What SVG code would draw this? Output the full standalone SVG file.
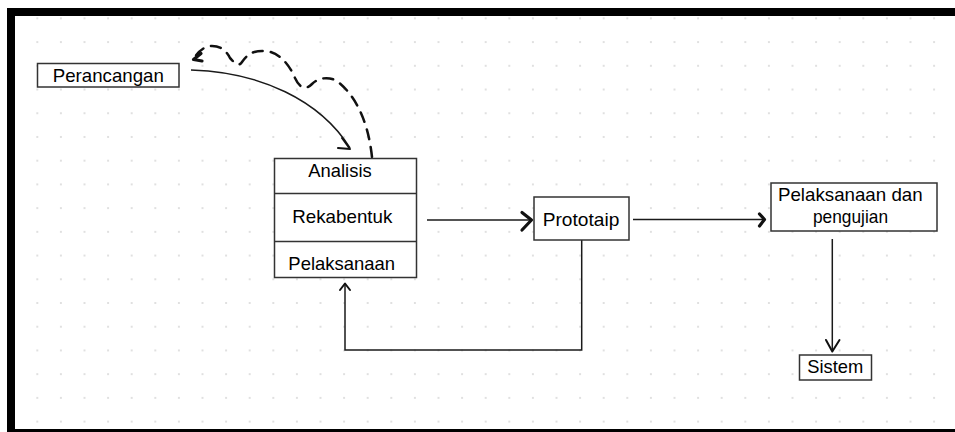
<svg xmlns="http://www.w3.org/2000/svg" width="955" height="432" viewBox="0 0 955 432">
<style>
.box{fill:#fff;stroke:#333;stroke-width:1.5}
.div{stroke:#333;stroke-width:1.5;fill:none}
.t{font-family:"Liberation Sans",Arial,Helvetica,sans-serif;font-size:18.5px;fill:#000;text-anchor:middle}
.ln{fill:none;stroke:#1a1a1a;stroke-width:1.5}
.hd{fill:none;stroke:#111;stroke-width:3.2;stroke-linecap:round;stroke-linejoin:round}
.hs{fill:none;stroke:#111;stroke-width:2;stroke-linecap:round;stroke-linejoin:round}
.dash{fill:none;stroke:#111;stroke-width:2.5;stroke-dasharray:10 8;stroke-linecap:round}
</style>
<defs>
<pattern id="dots" x="25.5" y="6.5" width="23.6" height="23.72" patternUnits="userSpaceOnUse">
<circle cx="11.8" cy="11.86" r="1" fill="#d6d6d6"/>
</pattern>
</defs>
<rect x="0" y="0" width="955" height="432" fill="#fff"/>
<rect x="15" y="16" width="940" height="413" fill="url(#dots)"/>
<g id="frame">
<rect x="7" y="8" width="948" height="8" fill="#000"/>
<rect x="7" y="8" width="8" height="424" fill="#000"/>
<rect x="7" y="429" width="948" height="3" fill="#000"/>
</g>
<g id="connectors">
<path class="ln" d="M191,70 C260,72 320,100 350,148"/>
<path class="hs" d="M342,138 L350,149 L338,148"/>
<path class="dash" d="M372,157 C368,120 355,95 337,81 C328,76 318,78 312,84 C306,90 300,89 295,78 C290,66 280,52 265,51 C252,50 246,56 242,62 C238,68 234,62 230,58 C226,50 220,46 212,46 C204,46 198,52 195,57"/>
<path class="hd" d="M201,53.5 L193.5,59.5 L202,61"/>
<path class="ln" d="M427,220 H530"/>
<path class="hd" d="M522,212.5 L531.5,220 L522,230"/>
<path class="ln" d="M581.7,240 V350 H345 V284"/>
<path class="hs" d="M340,290 L345,283.5 L350,290"/>
<path class="ln" d="M633,219.5 H763"/>
<path class="hd" d="M759.5,214 L764.5,219.5 L759.5,226"/>
<path class="ln" d="M832.3,239 V350"/>
<path class="hs" d="M826,340 L832.3,351.5 L839.5,340"/>
</g>
<g id="perancangan">
<rect class="box" x="37.5" y="63.5" width="141.5" height="23.5"/>
<text class="t" x="108.3" y="81.7" textLength="111" lengthAdjust="spacingAndGlyphs">Perancangan</text>
</g>
<g id="analisis">
<rect class="box" x="274.5" y="158.5" width="142" height="119"/>
<path class="div" d="M274.5,193.5 H416.5 M274.5,241.5 H416.5"/>
<text class="t" x="340" y="177.3" textLength="63.3" lengthAdjust="spacingAndGlyphs">Analisis</text>
<text class="t" x="342.3" y="222.7" textLength="100" lengthAdjust="spacingAndGlyphs">Rekabentuk</text>
<text class="t" x="341.7" y="270" textLength="106.7" lengthAdjust="spacingAndGlyphs">Pelaksanaan</text>
</g>
<g id="prototaip">
<rect class="box" x="534" y="197" width="95" height="43"/>
<text class="t" x="581" y="226" textLength="76.6" lengthAdjust="spacingAndGlyphs">Prototaip</text>
</g>
<g id="pengujian">
<rect class="box" x="771" y="183" width="166" height="48"/>
<text class="t" x="850.3" y="200.7" textLength="144.7" lengthAdjust="spacingAndGlyphs">Pelaksanaan dan</text>
<text class="t" x="850.5" y="223.3" textLength="75" lengthAdjust="spacingAndGlyphs">pengujian</text>
</g>
<g id="sistem">
<rect class="box" x="799.5" y="355" width="72" height="25"/>
<text class="t" x="835.3" y="373.3" textLength="56" lengthAdjust="spacingAndGlyphs">Sistem</text>
</g>
</svg>
